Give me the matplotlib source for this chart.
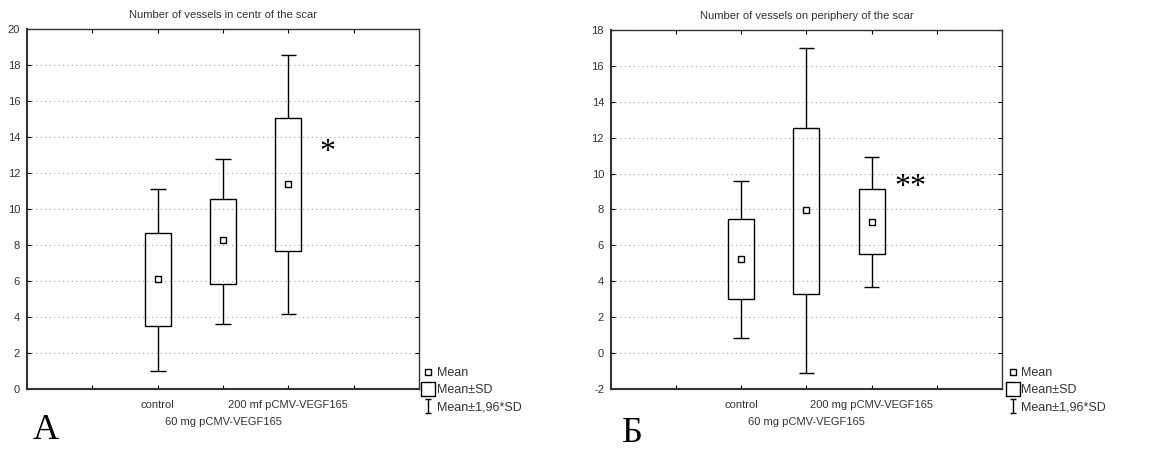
import matplotlib
matplotlib.use('Agg')
import matplotlib.pyplot as plt
from matplotlib.lines import Line2D
from matplotlib.path import Path

# データ（平均、±SD、±1.96*SD）
groups = [2, 3, 4]
tick_pos = [1, 2, 3, 4, 5]
tick_labels_a = ['', 'control', '', '200 mf pCMV-VEGF165', '']
tick_labels_b = ['', 'control', '', '200 mg pCMV-VEGF165', '']
second_row_label = '60 mg pCMV-VEGF165'

mean_a = [6.1, 8.25, 11.4]
sd_lo_a = [3.5, 5.85, 7.65]
sd_hi_a = [8.65, 10.55, 15.05]
w_lo_a = [1.0, 3.6, 4.15]
w_hi_a = [11.1, 12.8, 18.55]

mean_b = [5.25, 7.95, 7.3]
sd_lo_b = [3.0, 3.3, 5.5]
sd_hi_b = [7.45, 12.55, 9.15]
w_lo_b = [0.85, -1.1, 3.7]
w_hi_b = [9.6, 17.0, 10.9]

plt.rcParams['font.family'] = ['Liberation Sans', 'DejaVu Sans']
plt.rcParams['axes.unicode_minus'] = False

fig = plt.figure(figsize=(11.66, 4.5), dpi=100)
ax_a = fig.add_axes([0.0232, 0.1356, 0.3362, 0.80])
ax_b = fig.add_axes([0.524, 0.1356, 0.3353, 0.7977])


def draw_panel(ax, means, sd_lo, sd_hi, w_lo, w_hi, ylim, yticks, labels, title):
    ax.bar(groups, [h - l for h, l in zip(sd_hi, sd_lo)], bottom=sd_lo, width=0.4,
           fill=False, edgecolor='black', linewidth=1.0, zorder=3)
    ax.vlines(groups, sd_hi, w_hi, color='black', linewidth=1.0, zorder=3)
    ax.vlines(groups, w_lo, sd_lo, color='black', linewidth=1.0, zorder=3)
    ax.hlines(w_hi, [g - 0.12 for g in groups], [g + 0.12 for g in groups],
              color='black', linewidth=1.0, zorder=3)
    ax.hlines(w_lo, [g - 0.12 for g in groups], [g + 0.12 for g in groups],
              color='black', linewidth=1.0, zorder=3)
    ax.plot(groups, means, 's', markersize=4, markerfacecolor='white',
            markeredgecolor='black', markeredgewidth=1.0, linestyle='none', zorder=4)
    ax.set_xlim(0, 6)
    ax.set_ylim(*ylim)
    ax.set_yticks(yticks)
    ax.set_xticks(tick_pos)
    ax.set_xticklabels(labels)
    # 2段目のラベル（副目盛り）
    ax.xaxis.remove_overlapping_locs = False
    ax.set_xticks([groups[1]], minor=True)
    ax.set_xticklabels([second_row_label], minor=True)
    ax.tick_params(direction='in', length=3, labelsize=8, labelcolor='#333333',
                   top=True, right=True, pad=5)
    ax.tick_params(axis='x', which='major', pad=8)
    ax.tick_params(axis='x', which='minor', length=0, pad=20, labelsize=8,
                   labelcolor='#333333', top=False)
    ax.yaxis.grid(True, linestyle=(0, (1, 3)), color='#aaaaaa', linewidth=0.8)
    ax.set_axisbelow(True)
    for name, s in ax.spines.items():
        s.set_linewidth(1.5 if name in ('left', 'bottom') else 1.0)
        s.set_color('#333333')
    ax.set_title(title, fontsize=8, color='#333333', pad=8)


draw_panel(ax_a, mean_a, sd_lo_a, sd_hi_a, w_lo_a, w_hi_a, (0, 20),
           range(0, 21, 2), tick_labels_a, 'Number of vessels in centr of the scar')
draw_panel(ax_b, mean_b, sd_lo_b, sd_hi_b, w_lo_b, w_hi_b, (-2, 18),
           range(-2, 19, 2), tick_labels_b, 'Number of vessels on periphery of the scar')

# 有意差の記号
ax_a.text(4.6, 13.15, '*', fontsize=23, family='Liberation Serif', ha='center', va='center')
ax_b.text(4.6, 9.2, '**', fontsize=23, family='Liberation Serif', ha='center', va='center')

# 凡例（I型マーカー）
i_path = Path([(-0.5, 1), (0.5, 1), (0, 1), (0, -1), (-0.5, -1), (0.5, -1)],
              [Path.MOVETO, Path.LINETO, Path.MOVETO, Path.LINETO, Path.MOVETO, Path.LINETO])
handles = [
    Line2D([], [], marker='s', markersize=4, markerfacecolor='white',
           markeredgecolor='black', linestyle='none'),
    Line2D([], [], marker='s', markersize=10, markerfacecolor='white',
           markeredgecolor='black', linestyle='none'),
    Line2D([], [], marker=i_path, markersize=10, color='black', linestyle='none'),
]
names = ['Mean', 'Mean±SD', 'Mean±1,96*SD']
for x0 in (0.362, 0.863):
    leg = fig.legend(handles, names, loc='upper left', bbox_to_anchor=(x0, 0.184),
                     frameon=False, fontsize=9, handlelength=1.0, handletextpad=0.2,
                     labelspacing=0.4, borderpad=0, borderaxespad=0)
    for t in leg.get_texts():
        t.set_color('#333333')

# パネル記号
fig.text(0.028, 0.025, 'A', fontsize=26, family='Liberation Serif')
fig.text(0.533, 0.018, 'Б', fontsize=26, family='Liberation Serif')

plt.savefig('out.png', dpi=100)
